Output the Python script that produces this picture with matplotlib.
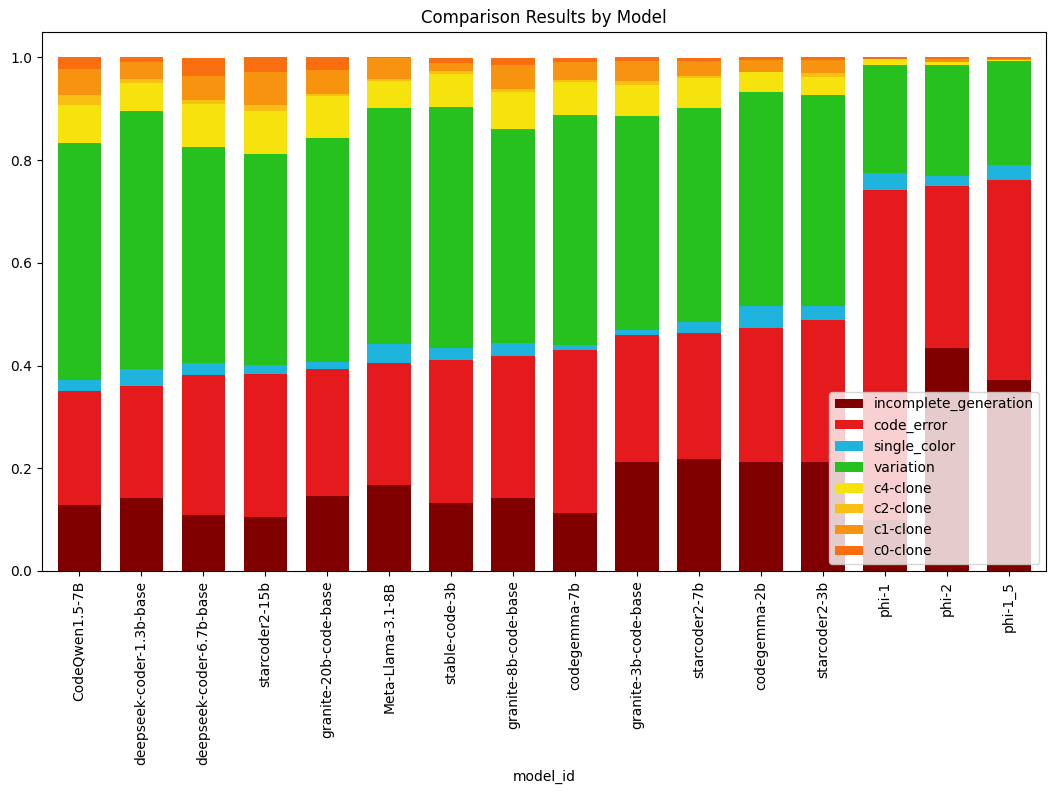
import matplotlib
matplotlib.use("Agg")
import matplotlib.pyplot as plt
import pandas as pd

models = ["CodeQwen1.5-7B", "deepseek-coder-1.3b-base", "deepseek-coder-6.7b-base",
          "starcoder2-15b", "granite-20b-code-base", "Meta-Llama-3.1-8B",
          "stable-code-3b", "granite-8b-code-base", "codegemma-7b",
          "granite-3b-code-base", "starcoder2-7b", "codegemma-2b",
          "starcoder2-3b", "phi-1", "phi-2", "phi-1_5"]

incomplete_generation = [0.1284, 0.1420, 0.1089, 0.1051, 0.1459, 0.1673, 0.1323, 0.1420,
                         0.1128, 0.2121, 0.2179, 0.2121, 0.2121, 0.0992, 0.4339, 0.3716]
code_error = [0.2218, 0.2179, 0.2724, 0.2782, 0.2471, 0.2374, 0.2782, 0.2763,
              0.3171, 0.2471, 0.2451, 0.2607, 0.2763, 0.6420, 0.3152, 0.3891]
single_color = [0.0214, 0.0331, 0.0233, 0.0175, 0.0136, 0.0370, 0.0233, 0.0253,
                0.0097, 0.0097, 0.0214, 0.0428, 0.0272, 0.0331, 0.0195, 0.0292]
variation = [0.4611, 0.5019, 0.4202, 0.4105, 0.4358, 0.4591, 0.4689, 0.4163,
             0.4475, 0.4163, 0.4163, 0.4163, 0.4105, 0.2101, 0.2160, 0.2023]
c4_clone = [0.0739, 0.0545, 0.0837, 0.0837, 0.0817, 0.0525, 0.0661, 0.0720,
            0.0642, 0.0603, 0.0584, 0.0389, 0.0350, 0.0117, 0.0058, 0.0033]
c2_clone = [0.0195, 0.0078, 0.0078, 0.0117, 0.0039, 0.0039, 0.0058, 0.0058,
            0.0058, 0.0078, 0.0058, 0.0010, 0.0078, 0.0000, 0.0006, 0.0002]
c1_clone = [0.0506, 0.0331, 0.0486, 0.0642, 0.0467, 0.0418, 0.0156, 0.0486,
            0.0350, 0.0389, 0.0292, 0.0224, 0.0253, 0.0010, 0.0062, 0.0018]
c0_clone = [0.0233, 0.0097, 0.0350, 0.0292, 0.0253, 0.0010, 0.0097, 0.0136,
            0.0078, 0.0078, 0.0058, 0.0058, 0.0058, 0.0029, 0.0029, 0.0025]

series_names = ["incomplete_generation", "code_error", "single_color", "variation",
                "c4-clone", "c2-clone", "c1-clone", "c0-clone"]
colors = ["#800000", "#e41a1c", "#1fb4de", "#26c11f",
          "#f6e30d", "#f8c012", "#f7930f", "#f86e10"]

df = pd.DataFrame({
    "incomplete_generation": incomplete_generation,
    "code_error": code_error,
    "single_color": single_color,
    "variation": variation,
    "c4-clone": c4_clone,
    "c2-clone": c2_clone,
    "c1-clone": c1_clone,
    "c0-clone": c0_clone,
}, index=pd.Index(models, name="model_id"))[series_names]

fig, ax = plt.subplots(figsize=(10.59, 7.94), dpi=100)
fig.subplots_adjust(left=0.0397, right=0.988, bottom=0.281, top=0.960)
df.plot(kind="bar", stacked=True, width=0.7, color=colors, ax=ax)
ax.set_title("Comparison Results by Model")
ax.set_xlabel("model_id")
ax.legend(loc="lower right")
fig.savefig("out.png", dpi=100)
